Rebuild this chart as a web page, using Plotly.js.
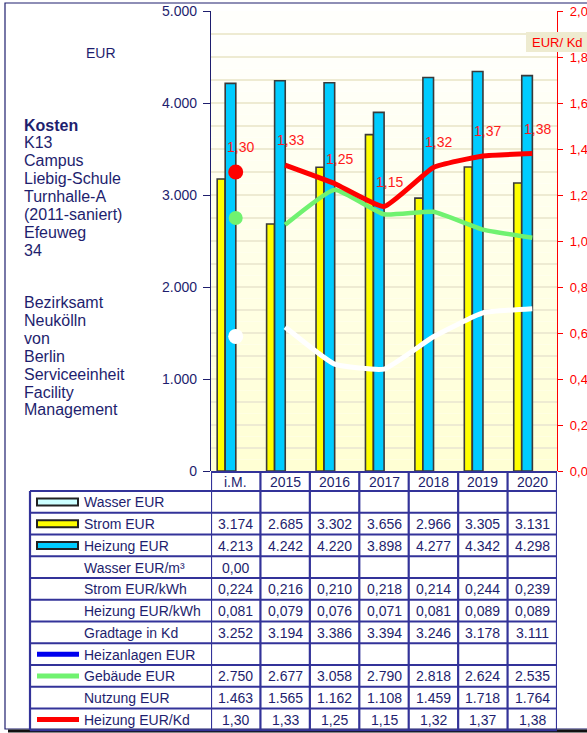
<!DOCTYPE html>
<html>
<head>
<meta charset="utf-8">
<script src="https://cdn.plot.ly/plotly-3.0.1.min.js"></script>
<style>html,body{margin:0;padding:0;background:#fff;}#chart{width:587px;height:733px;}</style>
</head>
<body>
<div id="chart"></div>
<script>
// ---------- DATA ----------
const cats = ['i.M.', '2015', '2016', '2017', '2018', '2019', '2020'];
const stromEUR = [3174, 2685, 3302, 3656, 2966, 3305, 3131];
const heizungEUR = [4213, 4242, 4220, 3898, 4277, 4342, 4298];
const wasserEURm3 = [0.00, null, null, null, null, null, null];
const stromEURkWh = [0.224, 0.216, 0.210, 0.218, 0.214, 0.244, 0.239];
const heizungEURkWh = [0.081, 0.079, 0.076, 0.071, 0.081, 0.089, 0.089];
const gradtage = [3252, 3194, 3386, 3394, 3246, 3178, 3111];
const gebaeudeEUR = [2750, 2677, 3058, 2790, 2818, 2624, 2535];
const nutzungEUR = [1463, 1565, 1162, 1108, 1459, 1718, 1764];
const heizungEURKd = [1.30, 1.33, 1.25, 1.15, 1.32, 1.37, 1.38];
const infoLinesA = ['Kosten', 'K13', 'Campus', 'Liebig-Schule', 'Turnhalle-A', '(2011-saniert)', 'Efeuweg', '34'];
const infoLinesB = ['Bezirksamt', 'Neukölln', 'von', 'Berlin', 'Serviceeinheit', 'Facility', 'Management'];

// ---------- helpers ----------
const NAVY = '#1e1e6e';
const GRID = '#333399';
const FONT = 'Arial, Liberation Sans';
const fmtInt = v => (v === null || v === undefined) ? '' : String(Math.round(v)).replace(/\B(?=(\d{3})+(?!\d))/g, '.');
const fmtDec = d => v => (v === null || v === undefined) ? '' : v.toFixed(d).replace('.', ',');
const L = 211, R = 30, T = 11, B = 262, WIDTH = 587, HEIGHT = 733;
const PW = WIDTH - L - R, PH = HEIGHT - T - B;
const px2x = p => (p - L) / PW;
const px2y = p => (T + PH - p) / PH;

const years = cats.slice(1);

// ---------- traces ----------
const traces = [
  {type: 'bar', name: 'Strom EUR', x: cats, y: stromEUR, width: 0.16, offset: -0.375,
   marker: {color: '#FFFF00', line: {color: '#3a3a3a', width: 1.6}}, hoverinfo: 'skip'},
  {type: 'bar', name: 'Heizung EUR', x: cats, y: heizungEUR, width: 0.215, offset: -0.213,
   marker: {color: '#00CCFF', line: {color: '#3a3a3a', width: 1.6}}, hoverinfo: 'skip'},
  {type: 'scatter', mode: 'lines', x: years, y: nutzungEUR.slice(1),
   line: {color: '#FFFFFF', width: 5, shape: 'spline', smoothing: 0.4}, hoverinfo: 'skip'},
  {type: 'scatter', mode: 'markers', x: cats.slice(0, 1), y: nutzungEUR.slice(0, 1),
   marker: {color: '#FFFFFF', size: 15}, hoverinfo: 'skip'},
  {type: 'scatter', mode: 'lines', x: years, y: gebaeudeEUR.slice(1),
   line: {color: '#70F270', width: 4.5, shape: 'spline', smoothing: 0.4}, hoverinfo: 'skip'},
  {type: 'scatter', mode: 'markers', x: cats.slice(0, 1), y: gebaeudeEUR.slice(0, 1),
   marker: {color: '#70F270', size: 14}, hoverinfo: 'skip'},
  {type: 'scatter', mode: 'lines', x: years, y: heizungEURKd.slice(1), yaxis: 'y2',
   line: {color: '#FF0000', width: 5, shape: 'spline', smoothing: 0.4}, hoverinfo: 'skip'},
  {type: 'scatter', mode: 'markers', x: cats.slice(0, 1), y: heizungEURKd.slice(0, 1), yaxis: 'y2',
   marker: {color: '#FF0000', size: 15}, hoverinfo: 'skip'}
];

// ---------- shapes & annotations ----------
const shapes = [];
const annotations = [];
function note(o) {
  annotations.push(Object.assign({showarrow: false, xanchor: 'center', yanchor: 'middle'}, o));
}

// background gradient bands in plot area
const NB = 40;
for (let i = 0; i < NB; i++) {
  const t = i / (NB - 1); // 0 bottom -> 1 top
  const b = Math.round(212 + t * 42);
  shapes.push({type: 'rect', xref: 'paper', yref: 'paper', x0: 0, x1: 1,
    y0: i / NB, y1: (i + 1) / NB, fillcolor: `rgb(255,255,${Math.min(b, 252)})`,
    line: {width: 0}, layer: 'below'});
}

// outer frame
shapes.push({type: 'rect', xref: 'paper', yref: 'paper', x0: px2x(5), x1: px2x(620),
  y0: px2y(729), y1: px2y(3), line: {color: NAVY, width: 1.2}, fillcolor: 'rgba(0,0,0,0)', layer: 'below'});
shapes.push({type: 'line', xref: 'paper', yref: 'paper', x0: px2x(8), x1: px2x(620),
  y0: px2y(731), y1: px2y(731), line: {color: '#111111', width: 3}});

// EUR/Kd box
shapes.push({type: 'rect', xref: 'paper', yref: 'paper', x0: px2x(526), x1: px2x(600),
  y0: px2y(52), y1: px2y(32), fillcolor: '#EEEBD0', line: {width: 0}});
note({xref: 'paper', yref: 'paper', x: px2x(557), y: px2y(42), text: 'EUR/ Kd',
  font: {family: FONT, size: 13, color: '#FF0000'}});

// EUR label
note({xref: 'paper', yref: 'paper', x: px2x(101), y: px2y(53), text: 'EUR',
  font: {family: FONT, size: 14, color: NAVY}});

// info text lines
infoLinesA.forEach((s, i) => {
  note({xref: 'paper', yref: 'paper', x: px2x(22), xanchor: 'left',
    y: px2y(125 + i * 17.9), text: i === 0 ? '<b>' + s + '</b>' : s,
    font: {family: FONT, size: 16, color: NAVY}});
});
infoLinesB.forEach((s, i) => {
  note({xref: 'paper', yref: 'paper', x: px2x(22), xanchor: 'left',
    y: px2y(302.5 + i * 17.9), text: s,
    font: {family: FONT, size: 16, color: NAVY}});
});

// red value labels
heizungEURKd.forEach((v, i) => {
  note({xref: 'x', yref: 'y2', x: i, y: v, text: fmtDec(2)(v),
    xshift: 5, yshift: 25,
    font: {family: FONT, size: 14, color: '#FF1A1A'}});
});

// ---------- table ----------
const rows = [
  {name: 'Wasser EUR', sw: 'bar', color: '#CCFFFF', vals: cats.map(() => null), fmt: fmtInt},
  {name: 'Strom EUR', sw: 'bar', color: '#FFFF00', vals: stromEUR, fmt: fmtInt},
  {name: 'Heizung EUR', sw: 'bar', color: '#00CCFF', vals: heizungEUR, fmt: fmtInt},
  {name: 'Wasser EUR/m³', vals: wasserEURm3, fmt: fmtDec(2)},
  {name: 'Strom EUR/kWh', vals: stromEURkWh, fmt: fmtDec(3)},
  {name: 'Heizung EUR/kWh', vals: heizungEURkWh, fmt: fmtDec(3)},
  {name: 'Gradtage in Kd', vals: gradtage, fmt: fmtInt},
  {name: 'Heizanlagen EUR', sw: 'line', color: '#0000EE', vals: cats.map(() => null), fmt: fmtInt},
  {name: 'Gebäude EUR', sw: 'line', color: '#70F270', vals: gebaeudeEUR, fmt: fmtInt},
  {name: 'Nutzung EUR', vals: nutzungEUR, fmt: fmtInt},
  {name: 'Heizung EUR/Kd', sw: 'line', color: '#FF0000', vals: heizungEURKd, fmt: fmtDec(2)}
];
const headTop = 472, headBot = 491, rowH = 21.75;
const tableBot = headBot + rows.length * rowH;
const lineStyle = {color: GRID, width: 2.2};

// header top line
shapes.push({type: 'line', xref: 'paper', yref: 'paper', x0: 0, x1: 1,
  y0: px2y(headTop), y1: px2y(headTop), line: lineStyle});
// horizontal lines for rows
for (let r = 0; r <= rows.length; r++) {
  const yp = headBot + r * rowH;
  shapes.push({type: 'line', xref: 'paper', yref: 'paper', x0: px2x(30), x1: 1,
    y0: px2y(yp), y1: px2y(yp), line: lineStyle});
}
// vertical line: label column left
shapes.push({type: 'line', xref: 'paper', yref: 'paper', x0: px2x(30), x1: px2x(30),
  y0: px2y(headBot), y1: px2y(tableBot), line: lineStyle});
// category boundaries
for (let i = 0; i <= cats.length; i++) {
  shapes.push({type: 'line', xref: 'x', yref: 'paper', x0: i - 0.5, x1: i - 0.5,
    y0: px2y(headTop), y1: px2y(tableBot), line: lineStyle});
}
// header labels
cats.forEach((c, j) => {
  note({xref: 'x', yref: 'paper', x: j, y: px2y((headTop + headBot) / 2 + 0.5),
    text: c, font: {family: FONT, size: 14, color: NAVY}});
});
// rows
rows.forEach((row, r) => {
  const yc = headBot + (r + 0.5) * rowH;
  note({xref: 'paper', yref: 'paper', x: px2x(82), xanchor: 'left', y: px2y(yc + 0.5),
    text: row.name, font: {family: FONT, size: 14, color: NAVY}});
  if (row.sw === 'bar') {
    shapes.push({type: 'rect', xref: 'paper', yref: 'paper', x0: px2x(37), x1: px2x(78),
      y0: px2y(yc + 3.5), y1: px2y(yc - 3.5), fillcolor: row.color, line: {color: '#222222', width: 2}});
  } else if (row.sw === 'line') {
    shapes.push({type: 'line', xref: 'paper', yref: 'paper', x0: px2x(37), x1: px2x(79),
      y0: px2y(yc), y1: px2y(yc), line: {color: row.color, width: 5}});
  }
  row.vals.forEach((v, j) => {
    const txt = row.fmt(v);
    if (txt !== '') {
      note({xref: 'x', yref: 'paper', x: j, y: px2y(yc + 0.5), text: txt,
        font: {family: FONT, size: 14, color: NAVY}});
    }
  });
});

const layout = {
  width: WIDTH, height: HEIGHT,
  margin: {l: L, r: R, t: T, b: B, pad: 0},
  paper_bgcolor: '#FFFFFF', plot_bgcolor: 'rgba(0,0,0,0)',
  separators: ',.',
  showlegend: false,
  barmode: 'overlay',
  font: {family: FONT, color: NAVY},
  xaxis: {type: 'category', categoryorder: 'array', categoryarray: cats, range: [-0.5, 6.5],
    showgrid: false, showline: false, zeroline: false, ticks: '', showticklabels: false, fixedrange: true},
  yaxis: {range: [0, 5000], dtick: 1000, tick0: 0, tickformat: ',d',
    showgrid: true, gridcolor: '#EEEBD2', gridwidth: 2,
    minor: {dtick: 250, showgrid: true, gridcolor: '#EEEBD2', gridwidth: 2, ticks: ''},
    ticks: 'outside', ticklen: 7, tickcolor: NAVY, tickwidth: 1,
    showline: true, linecolor: NAVY, linewidth: 1.2, zeroline: false,
    tickfont: {family: FONT, size: 14, color: NAVY}, ticklabelstandoff: 3},
  yaxis2: {range: [0, 2], dtick: 0.2, tick0: 0, tickformat: '.1f', overlaying: 'y', side: 'right',
    showgrid: false, zeroline: false, showline: true, linecolor: '#FF0000', linewidth: 1.2,
    ticks: 'outside', ticklen: 5, tickcolor: '#FF0000',
    tickfont: {family: FONT, size: 13, color: '#FF0000'}, ticklabelstandoff: 4},
  shapes: shapes,
  annotations: annotations
};

Plotly.newPlot('chart', traces, layout, {displayModeBar: false, staticPlot: true});
</script>
</body>
</html>
